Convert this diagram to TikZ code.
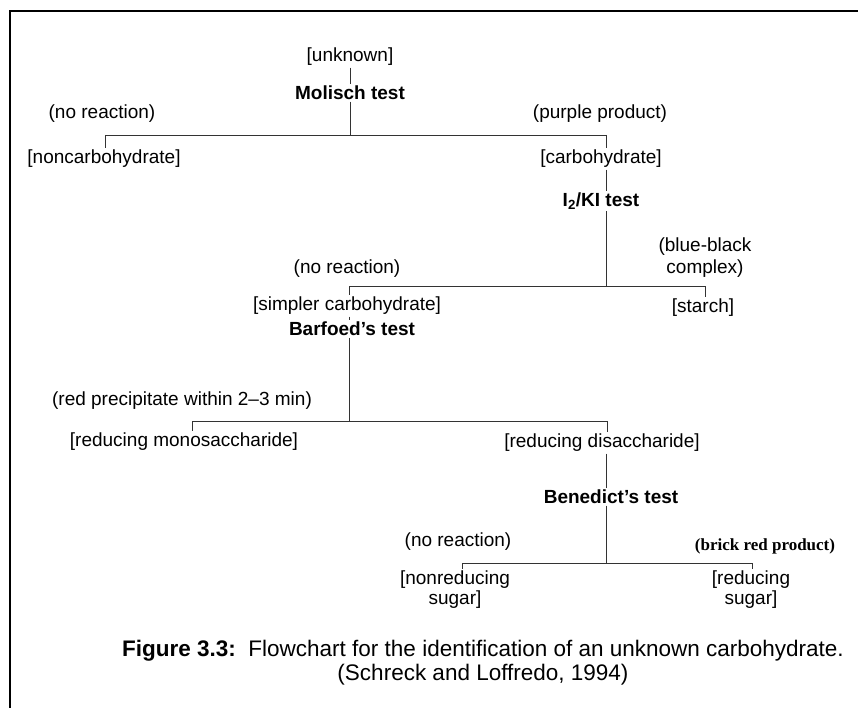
\documentclass[tikz,border=0pt]{standalone}
\usepackage{fontspec}
\setmainfont{Liberation Sans}
\newfontfamily\serifface{Liberation Serif}
\begin{document}
\begin{tikzpicture}[x=1pt,y=-1pt,
  lbl/.style={inner sep=1.5pt, font=\fontsize{19}{21}\selectfont, align=center},
  testlbl/.style={lbl, font=\fontsize{19}{21}\selectfont\bfseries},
  conn/.style={draw=black!80, line width=0.9pt},
  capt/.style={inner sep=0pt, font=\fontsize{22.5}{26}\selectfont}]
\useasboundingbox (0,0) rectangle (858,708);
\draw[line width=1.4pt] (858,11) -- (10,11) -- (10,708);
% nodes
\node[lbl] (unknown) at (350,57) {[unknown]};
\node[testlbl] (molisch) at (350,93) {Molisch test};
\node[lbl] (nr1) at (102,114) {(no reaction)};
\node[lbl] (purple) at (600,114) {(purple product)};
\node[lbl] (noncarb) at (104,159) {[noncarbohydrate]};
\node[lbl] (carb) at (601,159) {[carbohydrate]};
\node[testlbl] (iki) at (601,201) {I\textsubscript{2}/KI test};
\node[lbl] (nr2) at (347,269) {(no reaction)};
\node[lbl, font=\fontsize{19}{22}\selectfont] (blue) at (705,258) {(blue-black\\ complex)};
\node[lbl] (simpler) at (347,306) {[simpler carbohydrate]};
\node[lbl] (starch) at (703,308) {[starch]};
\node[testlbl] (barfoed) at (352,329) {Barfoed's test};
\node[lbl] (redp) at (182,401) {(red precipitate within 2--3 min)};
\node[lbl] (mono) at (184,442) {[reducing monosaccharide]};
\node[lbl] (di) at (602,443) {[reducing disaccharide]};
\node[testlbl] (bened) at (611,497) {Benedict's test};
\node[lbl] (nr3) at (458,542) {(no reaction)};
\node[lbl, font=\fontsize{17}{20}\selectfont\serifface\bfseries] (brick) at (765,546) {(brick red product)};
\node[lbl, font=\fontsize{19}{20}\selectfont] (nonred) at (455,590) {[nonreducing\\ sugar]};
\node[lbl, font=\fontsize{19}{20}\selectfont] (red) at (751,590) {[reducing\\ sugar]};
\node[capt] (cap1) at (483,651) {\textbf{Figure 3.3:}\ \ Flowchart for the identification of an unknown carbohydrate.};
\node[capt] (cap2) at (483,675) {(Schreck and Loffredo, 1994)};
% junction coordinates
\coordinate (j1) at (350,135);
\coordinate (j1L) at (105,135);
\coordinate (j1R) at (606,135);
\coordinate (j2) at (606,286);
\coordinate (j2L) at (349,286);
\coordinate (j2R) at (705,286);
\coordinate (j3) at (349,421);
\coordinate (j3L) at (192,421);
\coordinate (j3R) at (607,421);
\coordinate (j4) at (606,563);
\coordinate (j4L) at (462,563);
\coordinate (j4R) at (752,563);
% connectors
\draw[conn] (unknown) -- (molisch);
\draw[conn] (molisch) -- (j1);
\draw[conn] (j1L) -- (j1R);
\draw[conn] (j1L) -- (j1L |- noncarb.north);
\draw[conn] (j1R) -- (j1R |- carb.north);
\draw[conn] (j1R |- carb.south) -- (j1R |- iki.north);
\draw[conn] (j2 |- iki.south) -- (j2);
\draw[conn] (j2L) -- (j2R);
\draw[conn] (j2L) -- (j2L |- simpler.north);
\draw[conn] (j2R) -- (j2R |- starch.north);
\draw[conn] (j3 |- simpler.south) -- (j3 |- barfoed.north);
\draw[conn] (j3 |- barfoed.south) -- (j3);
\draw[conn] (j3L) -- (j3R);
\draw[conn] (j3L) -- (j3L |- mono.north);
\draw[conn] (j3R) -- (j3R |- di.north);
\draw[conn] (j4 |- di.south) -- (j4 |- bened.north);
\draw[conn] (j4 |- bened.south) -- (j4);
\draw[conn] (j4L) -- (j4R);
\draw[conn] (j4L) -- (j4L |- nonred.north);
\draw[conn] (j4R) -- (j4R |- red.north);
\end{tikzpicture}
\end{document}
